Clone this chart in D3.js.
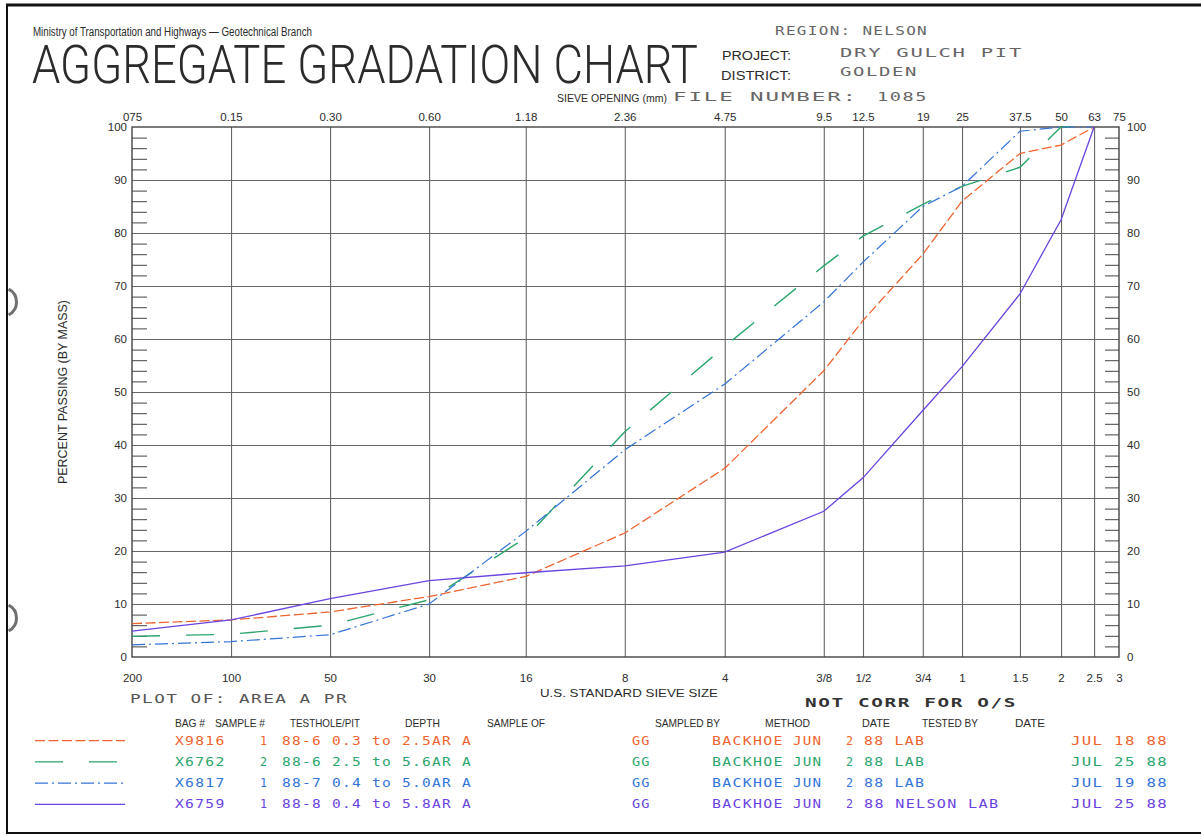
<!DOCTYPE html>
<html>
<head>
<meta charset="utf-8">
<script src="https://cdn.jsdelivr.net/npm/d3@7"></script>
<style>
  body { margin: 0; background: #fff; }
  svg { display: block; }
  .helv { font-family: "Liberation Sans", Arial, sans-serif; fill: #2b2b2b; }
  .plotter { font-family: "DejaVu Sans Mono", monospace; letter-spacing: 1px; }
</style>
</head>
<body>
<svg id="chart" width="1201" height="836"></svg>
<script>
// sieve openings (mm) and the two sets of tick labels
var sieveMm = [0.075, 0.15, 0.3, 0.6, 1.18, 2.36, 4.75, 9.5, 12.5, 19, 25, 37.5, 50, 63, 75]
var topLabels = ['075', '0.15', '0.30', '0.60', '1.18', '2.36', '4.75', '9.5', '12.5', '19', '25', '37.5', '50', '63', '75']
var usLabels = ['200', '100', '50', '30', '16', '8', '4', '3/8', '1/2', '3/4', '1', '1.5', '2', '2.5', '3']
var pctTicks = [0, 10, 20, 30, 40, 50, 60, 70, 80, 90, 100]

// percent passing, one value per sieve 0.075 .. 63
var passX9816 = [6.3, 7.0, 8.5, 11.4, 15.2, 23.4, 35.6, 54, 63.5, 76, 86, 95, 96.6, 100]
var passX6762 = [3.9, 4.3, 6.0, 10.8, 22.5, 42.5, 58.6, 73.8, 79.4, 85.4, 88.8, 92.4, 100, 100]
var passX6817 = [2.3, 2.9, 4.2, 10, 23.7, 39.1, 51.5, 67, 74.5, 85, 88.8, 99.2, 100, 100]
var passX6759 = [4.9, 7.0, 11.0, 14.4, 15.9, 17.2, 19.8, 27.5, 33.8, 46.5, 54.8, 68.5, 82.5, 100]

// legend table
var bagNo = ['X9816', 'X6762', 'X6817', 'X6759']
var sampleNo = ['1', '2', '1', '1']
var testhole = ['88-6', '88-6', '88-7', '88-8']
var depth = ['0.3 to 2.5AR A', '2.5 to 5.6AR A', '0.4 to 5.0AR A', '0.4 to 5.8AR A']
var sampledBy = ['GG', 'GG', 'GG', 'GG']
var method = ['BACKHOE', 'BACKHOE', 'BACKHOE', 'BACKHOE']
var sampleDate = ['JUN', 'JUN', 'JUN', 'JUN']
var sampleDay = ['2', '2', '2', '2']
var testedBy = ['88 LAB', '88 LAB', '88 LAB', '88 NELSON LAB']
var testDate = ['JUL 18 88', 'JUL 25 88', 'JUL 19 88', 'JUL 25 88']

var series = [
  {vals: passX9816, color: '#ee6430', dash: '10,3.5', width: 1.3},
  {vals: passX6762, color: '#2ba56d', dash: '28,26', width: 1.4},
  {vals: passX6817, color: '#3474d8', dash: '13,4,2,4', width: 1.2},
  {vals: passX6759, color: '#6a44e0', dash: null, width: 1.3}
]

var svg = d3.select('#chart')
var pL = 132, pR = 1119, pT = 127, pB = 657

var x = d3.scaleLog().domain([0.075, 75]).range([pL, pR])
var y = d3.scaleLinear().domain([0, 100]).range([pB, pT])

// page border
svg.append('line').attr('x1', 6).attr('x2', 1201).attr('y1', 5).attr('y2', 5).attr('stroke', '#111').attr('stroke-width', 3)
svg.append('line').attr('x1', 7).attr('x2', 7).attr('y1', 5).attr('y2', 834).attr('stroke', '#111').attr('stroke-width', 2)
svg.append('line').attr('x1', 6).attr('x2', 1201).attr('y1', 833).attr('y2', 833).attr('stroke', '#111').attr('stroke-width', 2)

// punch hole shadows on the left edge
var holeArc = d3.arc().innerRadius(13).outerRadius(16).startAngle(0.15 * Math.PI).endAngle(0.85 * Math.PI)
;[302, 618].forEach(function (cy) {
  svg.append('path').attr('d', holeArc()).attr('transform', 'translate(2,' + cy + ')').attr('fill', '#333').attr('opacity', 0.7)
})

// header
svg.append('text').attr('class', 'helv').attr('x', 33).attr('y', 36).attr('font-size', 12)
  .attr('textLength', 279).attr('lengthAdjust', 'spacingAndGlyphs')
  .text('Ministry of Transportation and Highways \u2014 Geotechnical Branch')
var title = svg.append('text').attr('class', 'helv').attr('font-size', 53)
  .style('font-family', 'Roboto, "Liberation Sans", sans-serif').attr('font-weight', 300)
  .text('AGGREGATE  GRADATION  CHART')
var titleW = title.node().getComputedTextLength()
title.attr('transform', 'translate(32,83) scale(' + (666 / titleW) + ',1)')
svg.append('text').attr('class', 'helv').attr('x', 557).attr('y', 102).attr('font-size', 11.5)
  .attr('textLength', 110).attr('lengthAdjust', 'spacingAndGlyphs').text('SIEVE OPENING (mm)')
svg.append('text').attr('class', 'helv').attr('x', 722).attr('y', 60).attr('font-size', 12)
  .attr('textLength', 69).attr('lengthAdjust', 'spacingAndGlyphs').text('PROJECT:')
svg.append('text').attr('class', 'helv').attr('x', 721).attr('y', 80).attr('font-size', 12)
  .attr('textLength', 70).attr('lengthAdjust', 'spacingAndGlyphs').text('DISTRICT:')

// plotter-style text: wide glyphs stretched to the measured width
var pitch = 10.6
function plotText(str, px, py, len, color, size) {
  return svg.append('text').attr('class', 'plotter').attr('x', px).attr('y', py)
    .attr('font-size', size || 11.5).attr('fill', color)
    .attr('textLength', len || (str.length * pitch - 2.5)).attr('lengthAdjust', 'spacingAndGlyphs')
    .text(str)
}
plotText('REGION: NELSON', 775, 35, 153, '#666', 12)
plotText('DRY GULCH PIT', 840, 57, 183, '#666', 12)
plotText('GOLDEN', 840, 76, 78, '#666', 12)
plotText('FILE NUMBER:', 673, 101, 185, '#666', 12)
plotText('1085', 877, 101, 51, '#666', 12)

// grid
svg.append('g').attr('transform', 'translate(0,' + pB + ')')
  .call(d3.axisBottom(x).tickValues(sieveMm.slice(1, -1)).tickSize(-(pB - pT)).tickFormat(''))
  .call(function (g) { g.select('.domain').remove(); g.selectAll('line').attr('stroke', '#666').attr('stroke-width', 1.1) })
svg.append('g').attr('transform', 'translate(' + pL + ',0)')
  .call(d3.axisLeft(y).tickValues(pctTicks.slice(1, -1)).tickSize(-(pR - pL)).tickFormat(''))
  .call(function (g) { g.select('.domain').remove(); g.selectAll('line').attr('stroke', '#666').attr('stroke-width', 1.1) })

// minor ticks every 2 %
var minor = d3.range(2, 100, 2).filter(function (d) { return d % 10 !== 0 })
svg.append('g').attr('transform', 'translate(' + pL + ',0)')
  .call(d3.axisLeft(y).tickValues(minor).tickSize(-15).tickFormat(''))
  .call(function (g) { g.select('.domain').remove(); g.selectAll('line').attr('stroke', '#444') })
svg.append('g').attr('transform', 'translate(' + pR + ',0)')
  .call(d3.axisRight(y).tickValues(minor).tickSize(-14).tickFormat(''))
  .call(function (g) { g.select('.domain').remove(); g.selectAll('line').attr('stroke', '#444') })

// frame
svg.append('rect').attr('x', pL).attr('y', pT).attr('width', pR - pL).attr('height', pB - pT)
  .attr('fill', 'none').attr('stroke', '#444').attr('stroke-width', 1.4)

// axes labels
function styleAxis(g) {
  g.select('.domain').remove()
  g.selectAll('text').attr('font-family', '"Liberation Sans", Arial, sans-serif').attr('font-size', 11.5).attr('fill', '#2b2b2b')
}
svg.append('g').attr('transform', 'translate(0,' + pT + ')')
  .call(d3.axisTop(x).tickValues(sieveMm).tickSize(0).tickPadding(6).tickFormat(function (d, i) { return topLabels[i] }))
  .call(styleAxis)
svg.append('g').attr('transform', 'translate(0,' + pB + ')')
  .call(d3.axisBottom(x).tickValues(sieveMm).tickSize(0).tickPadding(17).tickFormat(function (d, i) { return usLabels[i] }))
  .call(styleAxis)
svg.append('g').attr('transform', 'translate(' + pL + ',0)')
  .call(d3.axisLeft(y).tickValues(pctTicks).tickSize(0).tickPadding(5))
  .call(styleAxis)
svg.append('g').attr('transform', 'translate(' + pR + ',0)')
  .call(d3.axisRight(y).tickValues(pctTicks).tickSize(0).tickPadding(8))
  .call(styleAxis)

svg.append('text').attr('class', 'helv').attr('font-size', 12)
  .attr('transform', 'translate(67,' + ((pT + pB) / 2) + ') rotate(-90)')
  .attr('text-anchor', 'middle').attr('textLength', 184).attr('lengthAdjust', 'spacingAndGlyphs')
  .text('PERCENT PASSING (BY MASS)')
svg.append('text').attr('class', 'helv').attr('x', 540).attr('y', 697).attr('font-size', 11.5)
  .attr('textLength', 178).attr('lengthAdjust', 'spacingAndGlyphs').text('U.S. STANDARD SIEVE SIZE')
plotText('PLOT OF: AREA A PR', 130, 703, 218, '#555', 12)
plotText('NOT CORR FOR O/S', 805, 707, 212, '#333', 12).attr('font-weight', 'bold')

// gradation curves
var line = d3.line()
  .x(function (d, i) { return x(sieveMm[i]) })
  .y(function (d) { return y(d) })
series.forEach(function (s) {
  svg.append('path').datum(s.vals).attr('d', line)
    .attr('fill', 'none').attr('stroke', s.color).attr('stroke-width', s.width)
    .attr('stroke-dasharray', s.dash)
})

// legend table
var heads = [['BAG #', 175, 30], ['SAMPLE #', 215, 50], ['TESTHOLE/PIT', 290, 70], ['DEPTH', 405, 35], ['SAMPLE OF', 487, 58],
  ['SAMPLED BY', 655, 65], ['METHOD', 765, 45], ['DATE', 862, 28], ['TESTED BY', 922, 56], ['DATE', 1015, 30]]
heads.forEach(function (h) {
  svg.append('text').attr('class', 'helv').attr('x', h[1]).attr('y', 727).attr('font-size', 11)
    .attr('textLength', h[2]).attr('lengthAdjust', 'spacingAndGlyphs').text(h[0])
})
var rowY = d3.scaleBand().domain(d3.range(4)).range([730, 815])
var sampleX = d3.scaleLinear().domain([0, 1]).range([35, 125])
series.forEach(function (s, i) {
  var yy = rowY(i) + rowY.bandwidth() / 2
  svg.append('path').datum([0, 1])
    .attr('d', d3.line().x(function (d) { return sampleX(d) }).y(yy))
    .attr('fill', 'none').attr('stroke', s.color).attr('stroke-width', s.width)
    .attr('stroke-dasharray', s.dash)
  var by = yy + 4
  plotText(bagNo[i], 175, by, null, s.color)
  plotText(sampleNo[i], 260, by, null, s.color)
  plotText(testhole[i], 282, by, null, s.color)
  plotText(depth[i], 332, by, 140, s.color)
  plotText(sampledBy[i], 632, by, null, s.color)
  plotText(method[i], 712, by, null, s.color)
  plotText(sampleDate[i], 793, by, null, s.color)
  plotText(sampleDay[i], 846, by, null, s.color)
  plotText(testedBy[i], 864, by, null, s.color)
  plotText(testDate[i], 1071, by, 97, s.color)
})
</script>
</body>
</html>
